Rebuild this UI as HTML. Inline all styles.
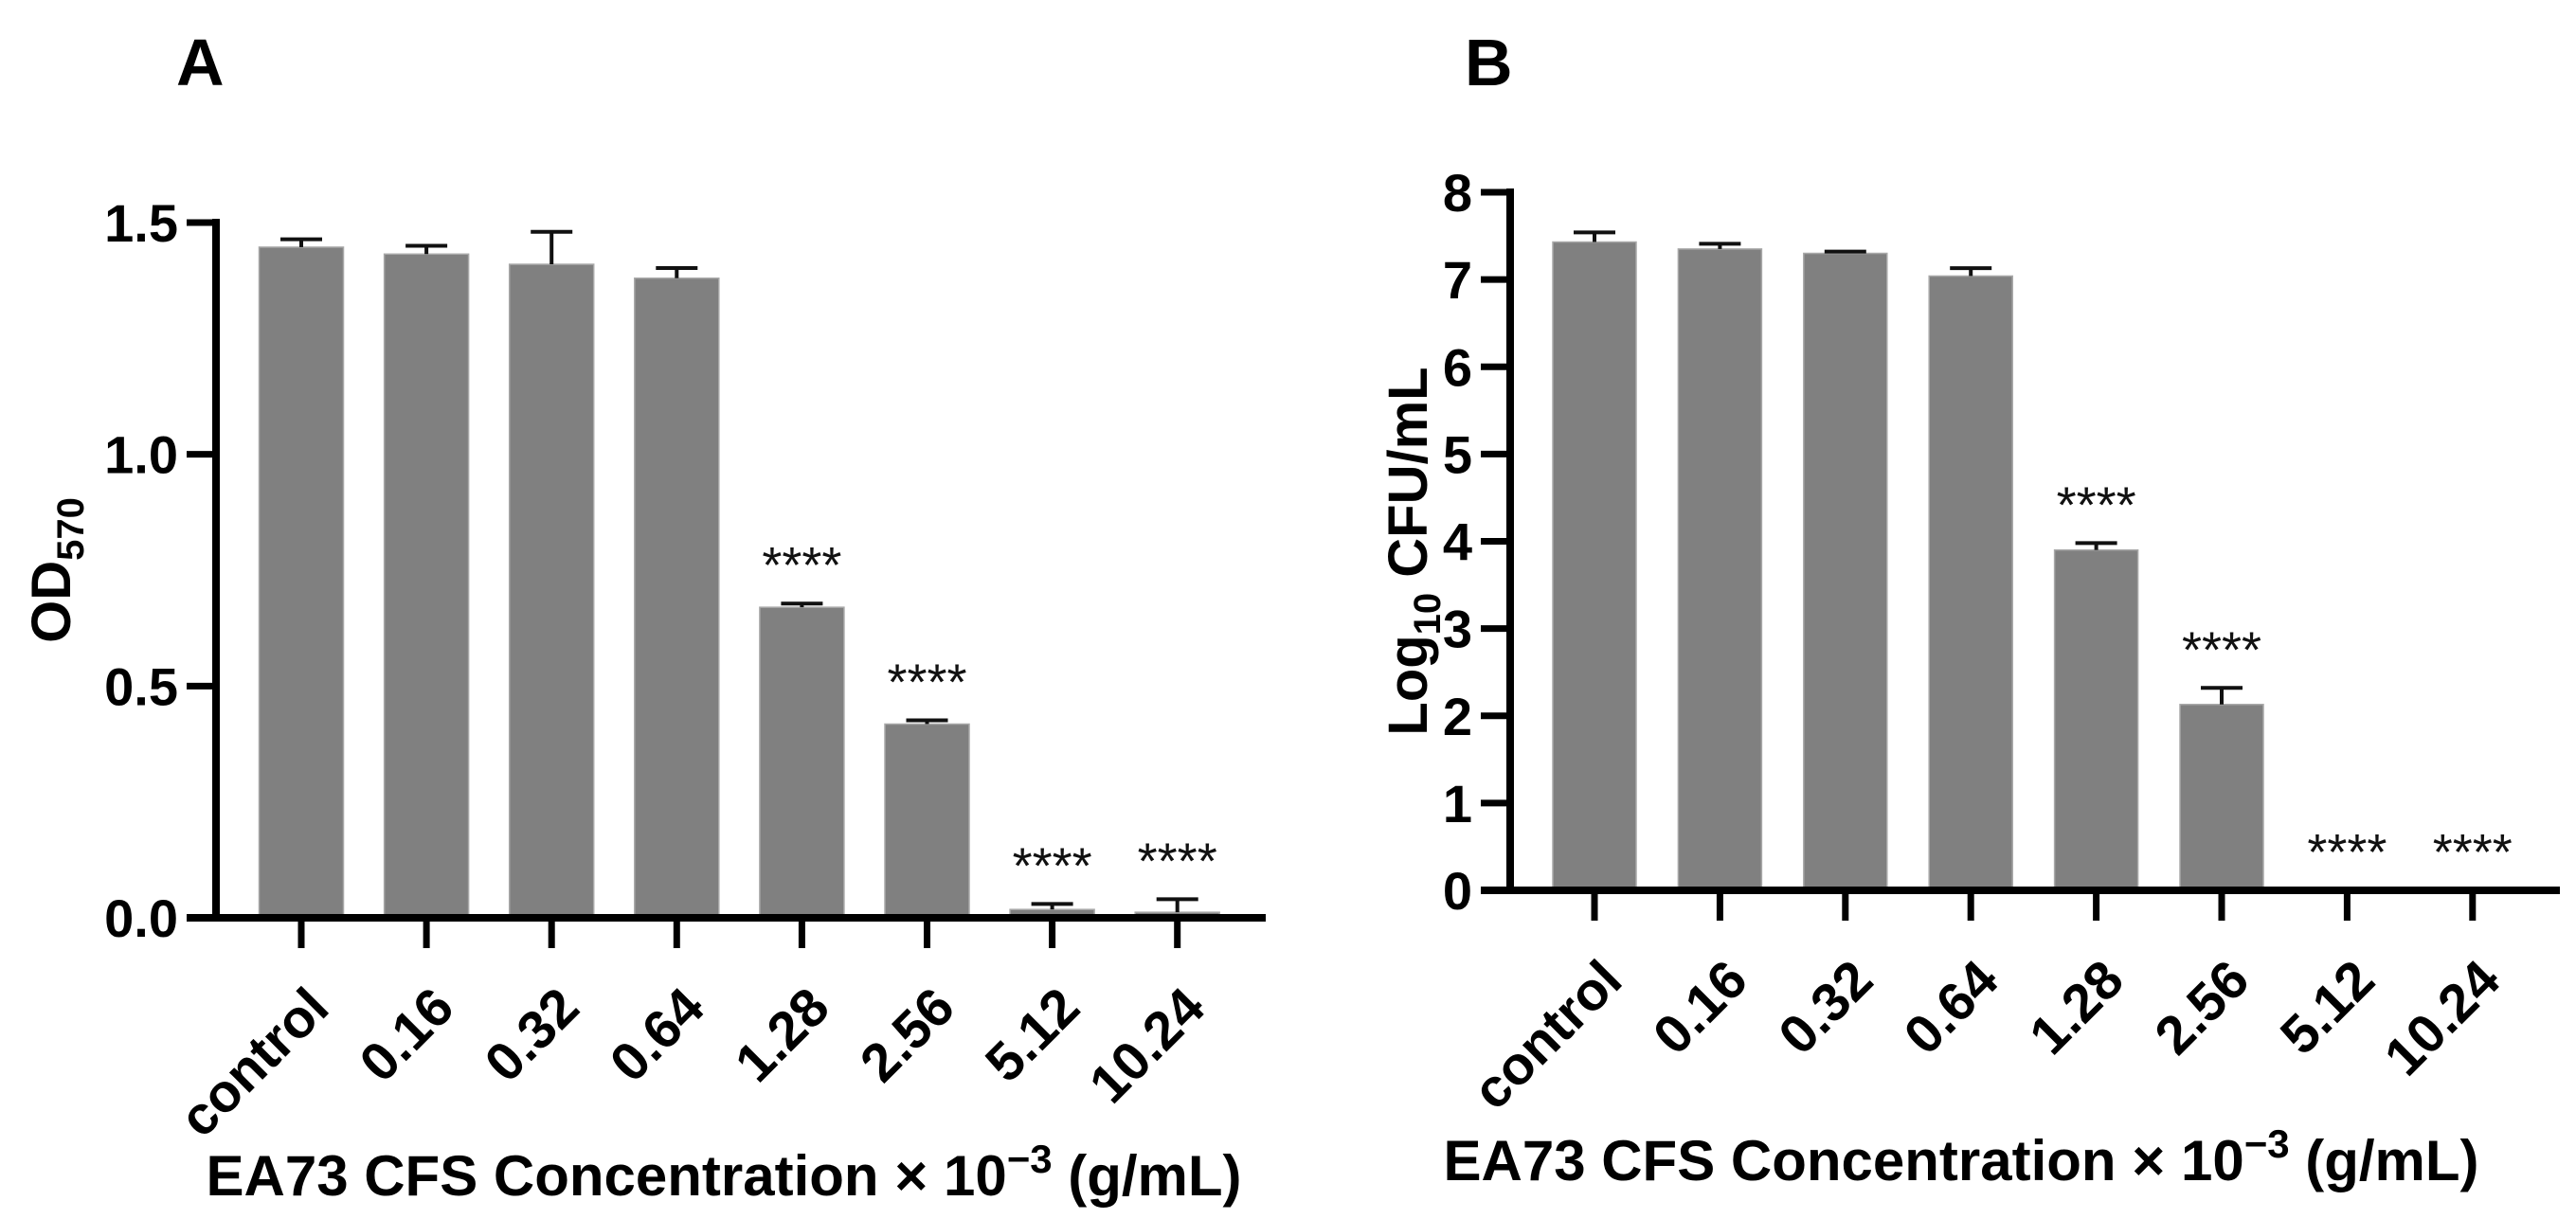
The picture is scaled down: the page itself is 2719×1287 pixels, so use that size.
<!DOCTYPE html>
<html><head><meta charset="utf-8"><style>
html,body{margin:0;padding:0;background:#fff;}
svg{display:block;font-family:"Liberation Sans",Arial,sans-serif;}
</style></head><body>
<svg id="fig" width="2719" height="1287" viewBox="0 0 2719 1287" xmlns="http://www.w3.org/2000/svg">
<text x="186" y="90" font-size="70" font-weight="bold">A</text>
<text x="1546" y="90" font-size="70" font-weight="bold">B</text>
<g id="panelA"></g>
<g id="panelB"></g>
</svg>
<script>
const categories = ["control","0.16","0.32","0.64","1.28","2.56","5.12","10.24"];
const odValues = [1.447,1.432,1.41,1.38,0.67,0.418,0.018,0.012];
const odErrors = [0.017,0.018,0.07,0.022,0.008,0.008,0.012,0.028];
const odSig = ["","","","","****","****","****","****"];
const odTicks = [0,0.5,1.0,1.5];
const odTickLabels = ["0.0","0.5","1.0","1.5"];
const cfuValues = [7.43,7.35,7.30,7.04,3.90,2.13,0,0];
const cfuErrors = [0.11,0.06,0.02,0.09,0.08,0.19,0,0];
const cfuSig = ["","","","","****","****","****","****"];
const cfuTicks = [0,1,2,3,4,5,6,7,8];
const cfuTickLabels = ["0","1","2","3","4","5","6","7","8"];

const NS="http://www.w3.org/2000/svg";
function mk(tag, attrs, parent){const e=document.createElementNS(NS,tag);for(const k in attrs)e.setAttribute(k,attrs[k]);parent.appendChild(e);return e;}

function drawPanel(g, cfg){
  const yS = v => cfg.y0 - (v - cfg.ymin)/(cfg.ymax-cfg.ymin)*(cfg.y0-cfg.yTop);
  const xS = i => cfg.x0 + i*cfg.step;
  cfg.values.forEach((v,i)=>{
    const cx=xS(i), top=yS(v), et=yS(v+cfg.errors[i]);
    if(v>0){
      const r=mk('rect',{x:cx-cfg.bw/2,y:top,width:cfg.bw,height:cfg.y0-top,fill:'#808080',stroke:'#a8a8a8','stroke-width':1.5},g);
      
      
      if(cfg.errors[i]>0){
        const l=mk('line',{x1:cx,x2:cx,y1:top,y2:et,stroke:'#111','stroke-width':4},g);
        
        
        const c=mk('line',{x1:cx-22,x2:cx+22,y1:et,y2:et,stroke:'#111','stroke-width':4},g);
        
        
      }
    }
    if(cfg.sig[i]){
      const t=mk('text',{x:cx,y:Math.min(et,cfg.y0)-22,'font-size':54,'text-anchor':'middle',fill:'#111'},g);
      t.textContent=cfg.sig[i];
      
      
    }
  });
  const ya=mk('line',{x1:cfg.xa,x2:cfg.xa,y1:yS(cfg.ymax)-4,y2:cfg.y0+4,stroke:'#000','stroke-width':8},g);
  
  
  const xa=mk('line',{x1:cfg.xa-31,x2:cfg.xEnd,y1:cfg.y0,y2:cfg.y0,stroke:'#000','stroke-width':8},g);
  
  
  cfg.ticks.forEach((v,i)=>{
    const y=yS(v);
    mk('line',{x1:cfg.xa-31,x2:cfg.xa,y1:y,y2:y,stroke:'#000','stroke-width':7},g);
    const t=mk('text',{x:cfg.xa-40,y:y+20,'font-size':56,'font-weight':'bold','text-anchor':'end'},g);
    t.textContent=cfg.tickLabels[i];
    
    
  });
  categories.forEach((c,i)=>{
    const x=xS(i);
    mk('line',{x1:x,x2:x,y1:cfg.y0,y2:cfg.y0+32,stroke:'#000','stroke-width':7},g);
    const tx=x+32, ty=cfg.y0+98;
    const t=mk('text',{x:tx,y:ty,'font-size':57,'font-weight':'bold','text-anchor':'end',transform:`rotate(-45 ${tx} ${ty})`},g);
    t.textContent=c;
    
    
  });
  const xt=mk('text',{x:cfg.xTitleX,y:cfg.xTitleY,'font-size':60,'font-weight':'bold','text-anchor':'middle'},g);
  xt.innerHTML='EA73 CFS Concentration × 10<tspan dy="-24" font-size="42">−3</tspan><tspan dy="24"> (g/mL)</tspan>';
  
  
  const yt=mk('text',{x:0,y:0,'font-size':58,'font-weight':'bold','text-anchor':'middle',transform:`translate(${cfg.yTitleX} ${cfg.yTitleY}) rotate(-90)`},g);
  yt.innerHTML=cfg.yTitle;
  
  
}

drawPanel(document.getElementById('panelA'),{
  values:odValues,errors:odErrors,sig:odSig,ticks:odTicks,tickLabels:odTickLabels,
  ymin:0,ymax:1.5,y0:969,yTop:235,xa:228,x0:318,step:132.1,bw:89,xEnd:1336,
  xTitleX:764,xTitleY:1262,yTitleX:74,yTitleY:602,
  yTitle:'OD<tspan dy="14" font-size="40">570</tspan>'
});
drawPanel(document.getElementById('panelB'),{
  values:cfuValues,errors:cfuErrors,sig:cfuSig,ticks:cfuTicks,tickLabels:cfuTickLabels,
  ymin:0,ymax:8,y0:940,yTop:203,xa:1594,x0:1683,step:132.4,bw:88,xEnd:2702,
  xTitleX:2070,xTitleY:1246,yTitleX:1506,yTitleY:582,
  yTitle:'Log<tspan dy="14" font-size="40">10</tspan><tspan dy="-14"> CFU/mL</tspan>'
});
</script>
</body></html>
